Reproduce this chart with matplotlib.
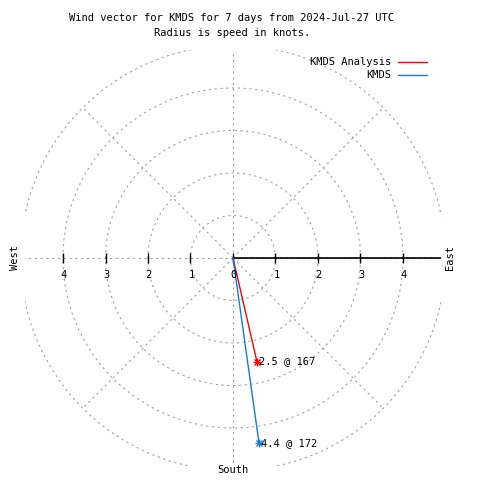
import numpy as np
import matplotlib.pyplot as plt
from matplotlib.lines import Line2D

plt.rcParams['font.family'] = 'DejaVu Sans Mono'
fs = 7.5

# wind data
names = ['KMDS Analysis', 'KMDS']
speeds = [2.5, 4.4]          # knots
dirs = [167, 172]            # degrees, clockwise from north
colors = ['#ff0000', '#1478e6']
point_labels = ['2.5 @ 167', '4.4 @ 172']

rings = [1, 2, 3, 4, 5]
spokes = range(0, 360, 45)
tick_vals = [-4, -3, -2, -1, 0, 1, 2, 3, 4]

fig = plt.figure(figsize=(4.8, 4.8), dpi=100)
L = 4.9
px = 42.5  # pixels per knot
w = 2 * L * px / 480
ax = fig.add_axes([(233 - L * px) / 480, (480 - 258 - L * px) / 480, w, w])
ax.set_xlim(-L, L)
ax.set_ylim(-L, L)
ax.axis('off')

grey = '#a0a0a0'
dash = (0, (2.0, 3.2))

# polar grid
th = np.linspace(0, 2 * np.pi, 361)
for r in rings:
    ax.plot(r * np.cos(th), r * np.sin(th), color=grey, lw=0.8, ls=dash)
for a in spokes:
    t = np.radians(a)
    ax.plot([0, 5 * np.cos(t)], [0, 5 * np.sin(t)], color=grey, lw=0.8, ls=dash)

# radius axis
ax.plot([0, L], [0, 0], color='k', lw=1.2)
ax.plot(tick_vals, np.zeros(len(tick_vals)), ls='none', marker='|',
        ms=7, mew=1, color='k')
for v in tick_vals:
    ax.text(v + 0.02, -0.4, str(abs(v)), ha='center', va='center', fontsize=fs)

# compass labels
ax.text(-5.13, 0, 'West', rotation=90, ha='center', va='center', fontsize=fs, clip_on=False)
ax.text(5.1, 0, 'East', rotation=90, ha='center', va='center', fontsize=fs, clip_on=False)
ax.text(0, -4.99, 'South', ha='center', va='center', fontsize=fs, clip_on=False)

# wind vectors
for s, d, c, lab in zip(speeds, dirs, colors, point_labels):
    t = np.radians(d)
    x, y = s * np.sin(t), s * np.cos(t)
    ax.plot([0, x], [0, y], color=c, lw=1)
    ax.plot(x, y, marker='+', ms=6, mew=1, color=c)
    ax.plot(x, y, marker='x', ms=4.5, mew=1, color=c)
    ax.annotate(lab, (x, y), xytext=(1.5, 0), textcoords='offset points',
                va='center', ha='left', fontsize=fs)

# legend
for i, (n, c) in enumerate(zip(names, colors)):
    yy = 1 - (62 + 13 * i) / 480
    fig.text(391 / 480, yy, n, ha='right', va='center', fontsize=fs)
    fig.add_artist(Line2D([398 / 480, 427 / 480], [yy, yy], color=c, lw=1))

fig.text(0.483, 1 - 18 / 480, 'Wind vector for KMDS for 7 days from 2024-Jul-27 UTC',
         ha='center', va='center', fontsize=fs)
fig.text(0.483, 1 - 33 / 480, 'Radius is speed in knots.',
         ha='center', va='center', fontsize=fs)

fig.savefig('out.png', dpi=100, facecolor='white')
